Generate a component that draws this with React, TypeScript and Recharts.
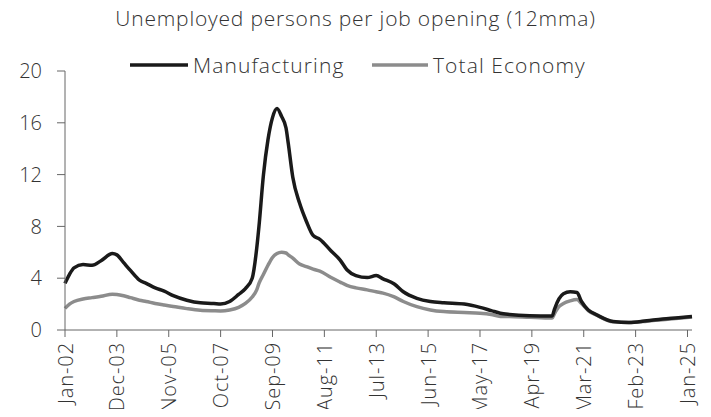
import React from "react";
import { LineChart, Line, XAxis, YAxis, Legend } from "recharts";

// month index from Jan-02 (0) to Mar-25 (278)
const months = [
  0, 2, 4, 8, 12, 16, 21, 23, 26, 29, 33, 36, 40, 44, 48, 54, 60, 66, 69, 73,
  77, 80, 83, 85, 86, 88, 90, 92, 94, 96, 98, 99, 101, 104, 107, 110, 113, 118,
  122, 125, 129, 134, 138, 141, 146, 150, 156, 162, 168, 177, 184, 189, 193,
  197, 206, 216, 217, 219, 221, 224, 227, 229, 232, 236, 243, 250, 258, 265,
  272, 278,
];

const manufacturing = [
  3.6, 4.3, 4.8, 5.05, 5.0, 5.35, 5.9, 5.8, 5.2, 4.6, 3.85, 3.6, 3.25, 3.0,
  2.65, 2.3, 2.1, 2.05, 2.0, 2.2, 2.75, 3.2, 4.0, 6.3, 8.0, 12.0, 14.7, 16.4,
  17.1, 16.5, 15.6, 14.4, 11.8, 9.8, 8.4, 7.3, 7.0, 6.1, 5.4, 4.65, 4.2, 4.05,
  4.2, 3.95, 3.55, 2.95, 2.45, 2.2, 2.1, 2.0, 1.75, 1.5, 1.3, 1.2, 1.1, 1.08,
  1.6, 2.4, 2.8, 2.95, 2.9, 2.2, 1.55, 1.15, 0.65, 0.58, 0.72, 0.85, 0.95,
  1.05,
];

const totalEconomy = [
  1.67, 2.0, 2.2, 2.4, 2.5, 2.6, 2.77, 2.75, 2.65, 2.5, 2.3, 2.2, 2.05, 1.93,
  1.82, 1.65, 1.52, 1.48, 1.47, 1.55, 1.75, 2.05, 2.55, 3.1, 3.6, 4.3, 5.0, 5.6,
  5.9, 6.0, 5.95, 5.8, 5.55, 5.1, 4.9, 4.7, 4.55, 4.05, 3.7, 3.45, 3.25, 3.1,
  2.95, 2.85, 2.55, 2.2, 1.8, 1.55, 1.42, 1.35, 1.3, 1.2, 1.05, 1.05, 0.98,
  0.92, 1.25, 1.8, 2.05, 2.25, 2.35, 2.05, 1.5, 1.12, 0.63, 0.58, 0.68, 0.8,
  0.9, 1.0,
];

const tickMonths = [0, 23, 46, 69, 92, 115, 138, 161, 184, 207, 230, 253, 276];
const tickLabels = [
  "Jan-02", "Dec-03", "Nov-05", "Oct-07", "Sep-09", "Aug-11", "Jul-13",
  "Jun-15", "May-17", "Apr-19", "Mar-21", "Feb-23", "Jan-25",
];
const yTicks = [0, 4, 8, 12, 16, 20];

const FONT = "'Open Sans', sans-serif";
const TEXT = "#333333";
const AXIS = "#666666";

const data = months.map((m, i) => ({
  m,
  mfg: manufacturing[i],
  total: totalEconomy[i],
}));

const XTick = ({ x, y, payload }: any) => {
  const idx = tickMonths.indexOf(payload.value);
  return (
    <text
      x={x}
      y={y}
      transform={`rotate(-90, ${x}, ${y})`}
      textAnchor="end"
      dominantBaseline="central"
      fill={TEXT}
      fontSize={20}
      fontWeight={300}
      letterSpacing={0.9}
      fontFamily={FONT}
    >
      {tickLabels[idx]}
    </text>
  );
};

const legendText = {
  dominantBaseline: "central" as const,
  fill: TEXT,
  fontSize: 21,
  fontWeight: 300,
  letterSpacing: 1.1,
  fontFamily: FONT,
};

const LegendContent = () => (
  <svg width={480} height={28}>
    <line x1={10} y1={14} x2={68} y2={14} stroke="#1a1a1a" strokeWidth={3.5} />
    <text x={73} y={14} {...legendText}>
      Manufacturing
    </text>
    <line x1={252} y1={14} x2={308} y2={14} stroke="#8c8c8c" strokeWidth={3.5} />
    <text x={313} y={14} {...legendText}>
      Total Economy
    </text>
  </svg>
);

export default function App() {
  return (
    <div style={{ margin: -8, width: 711, height: 417, position: "relative", background: "#fff" }}>
      <div
        style={{
          position: "absolute",
          top: 4,
          left: 0,
          width: 711,
          textAlign: "center",
          fontFamily: FONT,
          fontWeight: 300,
          fontSize: 21,
          letterSpacing: 0.8,
          color: TEXT,
        }}
      >
        Unemployed persons per job opening (12mma)
      </div>
      <LineChart
        width={711}
        height={417}
        data={data}
        margin={{ top: 71, right: 19, bottom: 0, left: 0 }}
      >
        <XAxis
          dataKey="m"
          type="number"
          domain={[0, 278]}
          ticks={tickMonths}
          interval={0}
          tick={<XTick />}
          tickSize={7}
          tickMargin={5}
          height={87}
          stroke={AXIS}
          tickLine={{ stroke: AXIS }}
        />
        <YAxis
          domain={[0, 20]}
          ticks={yTicks}
          interval={0}
          width={65}
          tickSize={8}
          tickMargin={15}
          stroke={AXIS}
          tick={{ fill: TEXT, fontSize: 20, fontWeight: 300, fontFamily: FONT }}
        />
        <Legend
          verticalAlign="middle"
          align="center"
          content={<LegendContent />}
          wrapperStyle={{ top: 51, left: 120, width: 480 }}
        />
        <Line
          type="monotone"
          dataKey="total"
          name="Total Economy"
          stroke="#8c8c8c"
          strokeWidth={3.5}
          dot={false}
          isAnimationActive={false}
        />
        <Line
          type="monotone"
          dataKey="mfg"
          name="Manufacturing"
          stroke="#1a1a1a"
          strokeWidth={3.5}
          dot={false}
          isAnimationActive={false}
        />
      </LineChart>
    </div>
  );
}
